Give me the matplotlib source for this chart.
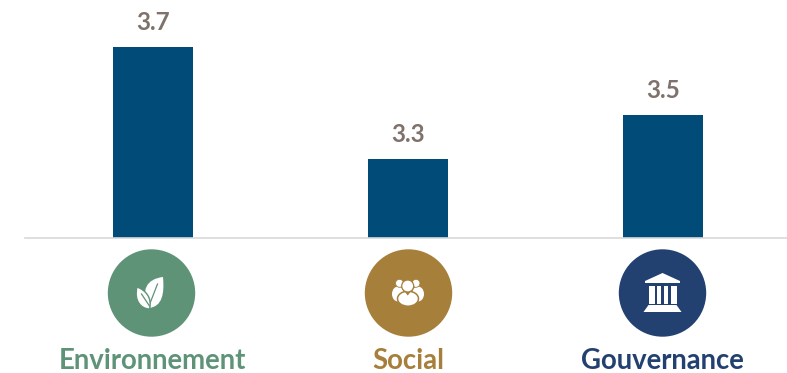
import matplotlib.pyplot as plt
from matplotlib.patches import Circle, Ellipse, PathPatch, Polygon, Rectangle
from matplotlib.path import Path

categories = ['Environnement', 'Social', 'Gouvernance']
scores = [3.7, 3.29, 3.45]
bar_color = '#004b78'
label_color = '#7f716c'
theme_colors = ['#5f9378', '#a67f3b', '#234170']

W, H = 787, 373
base_y = 237.5
spacing = 255
first_x = 153

fig = plt.figure(figsize=(W / 100, H / 100), dpi=100, facecolor='white')

# bars sit above the base line, y axis starts at 3
ax = fig.add_axes([0, 1 - base_y / H, 1, base_y / H])
ax.set_xlim(-first_x / spacing, (W - first_x) / spacing)
ax.set_ylim(3, 3 + base_y / 272)
ax.axis('off')
bars = ax.bar(range(len(scores)), scores, bottom=0, width=80 / spacing, color=bar_color)
for i, v in enumerate(scores):
    ax.annotate(f'{v:.1f}', (i, v), xytext=(0, 17), textcoords='offset pixels',
                ha='center', va='baseline', fontsize=17.5, fontweight='bold', family='Lato',
                color=label_color, annotation_clip=False)

# overlay in pixel units for the base line and the icons
ov = fig.add_axes([0, 0, 1, 1])
ov.set_xlim(0, W)
ov.set_ylim(H, 0)
ov.axis('off')
ov.patch.set_alpha(0)
ov.plot([25, W], [base_y + 0.5, base_y + 0.5], color='#d9d9d9', lw=1.2)


def leaf(cx, cy):
    c = theme_colors[0]
    big = [(11.5, -16), (-5, -14), (-11, -3), (-3, 15), (-3, 15), (11, 14), (13, 0), (11.5, -16)]
    codes = [Path.MOVETO, Path.CURVE4, Path.CURVE4, Path.CURVE4, Path.LINETO, Path.CURVE4, Path.CURVE4, Path.CURVE4]
    ov.add_patch(PathPatch(Path([(cx + x, cy + y) for x, y in big], codes), fc='white', ec='none'))
    small = [(-14.5, -6), (-18, 8), (-10, 16), (-2, 16), (-2, 16), (1, 5), (-6, -3), (-14.5, -6)]
    ov.add_patch(PathPatch(Path([(cx + x, cy + y) for x, y in small], codes), fc='white', ec=c, lw=1))
    ov.plot([cx - 10, cx - 2], [cy + 1, cy + 13], color=c, lw=0.9)
    ov.plot([cx + 6, cx - 1], [cy - 9, cy + 9], color=c, lw=0.9)


def people(cx, cy):
    c = theme_colors[1]
    for dx, bx in ((-9, -10.5), (7.5, 9.5)):
        ov.add_patch(Ellipse((cx + bx, cy + 1), 12, 15, fc='white', ec='none'))
        ov.add_patch(Circle((cx + dx, cy - 9.7), 4, fc='white', ec=c, lw=0.6))
    ov.add_patch(Ellipse((cx - 0.5, cy + 5.7), 21, 15, fc='white', ec=c, lw=1.1))
    ov.add_patch(Circle((cx - 0.8, cy - 7), 6, fc='white', ec=c, lw=0.9))
    ov.add_patch(Polygon([(cx - 3.5, cy - 1), (cx + 2, cy - 1), (cx - 0.8, cy + 2.5)], fc=c, ec='none'))


def temple(cx, cy):
    ov.add_patch(Polygon([(cx - 17.5, cy - 12), (cx, cy - 20), (cx + 17.5, cy - 12),
                          (cx + 17.5, cy - 10), (cx - 17.5, cy - 10)], fc='white', ec='none'))
    for dx, w in ((-11, 6), (-3.6, 3.6), (3.6, 3.6), (11, 6)):
        ov.add_patch(Rectangle((cx + dx - w / 2, cy - 7.5), w, 18, fc='white', ec='none'))
    ov.add_patch(Polygon([(cx - 14, cy + 12), (cx + 14, cy + 12), (cx + 19, cy + 19),
                          (cx - 19, cy + 19)], fc='white', ec='none'))


icon_funcs = [leaf, people, temple]
icon_x = [151.5, 408.5, 662.5]
text_x = [152, 408, 662]
for i, name in enumerate(categories):
    ov.add_patch(Circle((icon_x[i], 293), 43.7, fc=theme_colors[i], ec='none'))
    icon_funcs[i](icon_x[i], 293)
    ov.text(text_x[i], 369, name, ha='center', va='baseline', fontsize=19.8,
            fontweight='bold', family='Lato', color=theme_colors[i])

fig.savefig('out.png', dpi=100)
